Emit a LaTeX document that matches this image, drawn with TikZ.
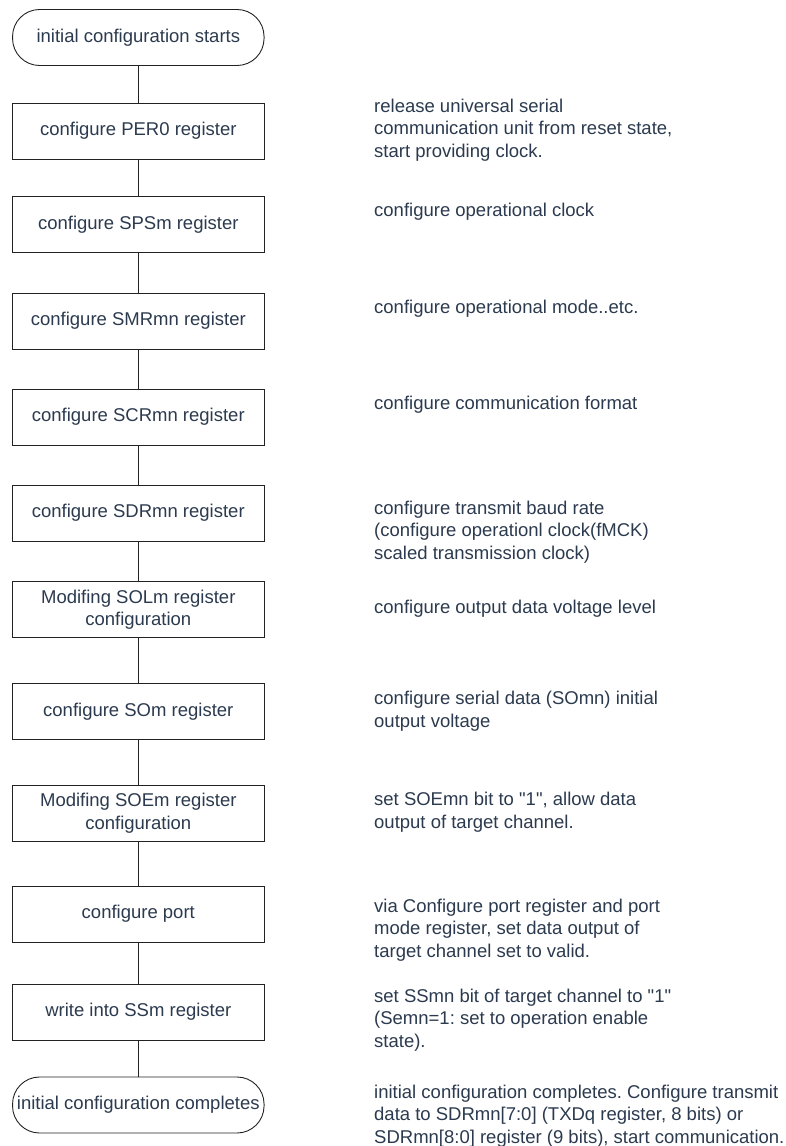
\documentclass[tikz,border=0pt]{standalone}
\usepackage{fontspec}
\setmainfont{Liberation Sans}[Ligatures=TeXOff]
\usetikzlibrary{positioning}
\definecolor{fctext}{HTML}{2B3A4E}
\definecolor{fcline}{HTML}{222222}
\frenchspacing

\begin{document}
\begin{tikzpicture}[x=1pt, y=-1pt, font=\fontsize{18.5}{22.5}\selectfont, text=fctext,
    stepbox/.style={draw=fcline, line width=0.9pt, minimum width=251.5pt, minimum height=56pt, inner sep=0pt, align=center},
    term/.style={stepbox, rounded corners=27pt},
    note/.style={anchor=west, align=left, inner sep=0pt},
    link/.style={draw=fcline, line width=0.8pt}]
  \useasboundingbox (0,0) rectangle (785,1146);
  % flow steps
  \node[term]    (start) at (138.3,37.5)  {initial configuration starts};
  \node[stepbox] (per)   at (138.3,131)   {configure PER0 register};
  \node[stepbox] (sps)   at (138.3,224.7) {configure SPSm register};
  \node[stepbox] (smr)   at (138.3,321)   {configure SMRmn register};
  \node[stepbox] (scr)   at (138.3,417)   {configure SCRmn register};
  \node[stepbox] (sdr)   at (138.3,513)   {configure SDRmn register};
  \node[stepbox] (sol)   at (138.3,609.5) {Modifing SOLm register\\configuration};
  \node[stepbox] (som)   at (138.3,711.5) {configure SOm register};
  \node[stepbox] (soe)   at (138.3,813)   {Modifing SOEm register\\configuration};
  \node[stepbox] (port)  at (138.3,914)   {configure port};
  \node[stepbox] (ssm)   at (138.3,1012)  {write into SSm register};
  \node[term]    (done)  at (138.3,1105)  {initial configuration completes};
  \foreach \a/\b in {start/per, per/sps, sps/smr, smr/scr, scr/sdr, sdr/sol, sol/som, som/soe, soe/port, port/ssm, ssm/done}
    \draw[link] (\a) -- (\b);
  % notes on the right
  \node[note] (nper)  at (374,130)  {release universal serial\\communication unit from reset state,\\start providing clock.};
  \node[note] (nsps)  at (374,212)  {configure operational clock};
  \node[note] (nsmr)  at (374,309)  {configure operational mode..etc.};
  \node[note] (nscr)  at (374,405)  {configure communication format};
  \node[note] (nsdr)  at (374,532)  {configure transmit baud rate\\(configure operationl clock(fMCK)\\scaled transmission clock)};
  \node[note] (nsol)  at (374,609)  {configure output data voltage level};
  \node[note] (nsom)  at (374,711)  {configure serial data (SOmn) initial\\output voltage};
  \node[note] (nsoe)  at (374,812)  {set SOEmn bit to "1", allow data\\output of target channel.};
  \node[note] (nport) at (374,930)  {via Configure port register and port\\mode register, set data output of\\target channel set to valid.};
  \node[note] (nssm)  at (374,1020) {set SSmn bit of target channel to "1"\\(Semn=1: set to operation enable\\state).};
  \node[note] (ndone) at (374,1116) {initial configuration completes. Configure transmit\\data to SDRmn[7:0] (TXDq register, 8 bits) or\\SDRmn[8:0] register (9 bits), start communication.};
\end{tikzpicture}
\end{document}
